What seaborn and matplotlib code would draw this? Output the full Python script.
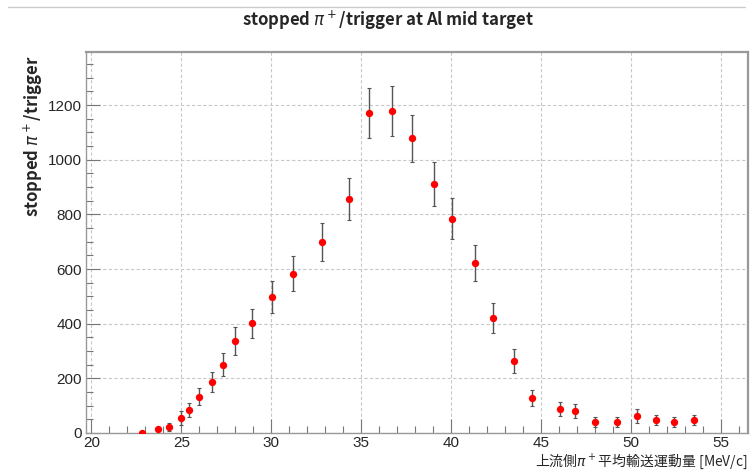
import numpy as np
import pandas as pd
import matplotlib
matplotlib.use("Agg")
import matplotlib.pyplot as plt
import seaborn as sns
from matplotlib.ticker import MultipleLocator

# 上流側 π+ 平均輸送運動量 [MeV/c]
momentum = [22.8, 23.7, 24.3, 25.0, 25.4, 26.0, 26.7, 27.3, 28.0, 28.9,
            30.05, 31.2, 32.8, 34.3, 35.45, 36.7, 37.8, 39.05, 40.05, 41.3,
            42.35, 43.5, 44.5, 46.05, 46.9, 48.0, 49.2, 50.35, 51.4, 52.4, 53.5]
# stopped pi+ / trigger
stopped = [0, 15, 22, 55, 84, 132, 187, 249, 337, 402,
           498, 582, 699, 856, 1171, 1178, 1079, 911, 783, 622,
           421, 263, 128, 88, 80, 40, 40, 62, 48, 40, 48]
stopped_err = [0, 8, 13, 24, 25, 31, 38, 42, 50, 53,
               59, 64, 70, 78, 91, 91, 86, 82, 75, 66,
               55, 44, 31, 25, 25, 18, 18, 24, 18, 18, 18]

df = pd.DataFrame({'p': momentum, 'n': stopped, 'err': stopped_err})

sns.set_style("white")
plt.rcParams['font.family'] = ['Liberation Sans', 'DejaVu Sans']
plt.rcParams['mathtext.fontset'] = 'dejavusans'
jp = ['Noto Sans CJK JP', 'DejaVu Sans']

fig = plt.figure(figsize=(7.53, 4.70), dpi=100)
ax = fig.add_axes([86/753, 37/470, 662/753, 381/470])

ax.errorbar(df['p'], df['n'], yerr=df['err'], fmt='none', ecolor='#555555',
            elinewidth=1.0, capsize=1.5, capthick=0.8, zorder=2)
sns.scatterplot(data=df, x='p', y='n', ax=ax, color='red', s=28,
                edgecolor='red', linewidth=0, zorder=3)

ax.set_xlim(19.7, 56.5)
ax.set_ylim(0, 1394)
ax.xaxis.set_major_locator(MultipleLocator(5))
ax.xaxis.set_minor_locator(MultipleLocator(1))
ax.yaxis.set_major_locator(MultipleLocator(200))
ax.yaxis.set_minor_locator(MultipleLocator(50))

ax.grid(True, which='major', linestyle=(0, (3, 2)), color='#c8c8c8', linewidth=0.8)
ax.set_axisbelow(True)
ax.tick_params(which='both', direction='in', color='#777777', labelsize=11,
               top=False, right=False, bottom=True, left=True)
ax.tick_params(which='major', length=10, width=0.8)
ax.tick_params(which='minor', length=5, width=0.8)
ax.tick_params(axis='x', pad=2)
ax.tick_params(axis='y', pad=3)
for s in ax.spines.values():
    s.set_color('#999999')
    s.set_linewidth(1.0)
ax.spines['top'].set_linewidth(1.6)
ax.spines['right'].set_linewidth(1.6)

ax.set_xlabel('')
ax.set_ylabel('')

fig.text(388/753, 1 - 20/470, r'stopped $\pi^+$/trigger at Al mid target',
         ha='center', va='center', fontsize=12, fontweight='bold', family=jp)
fig.text(33/753, 1 - 55/470, r'stopped $\pi^+$/trigger', rotation=90,
         ha='center', va='top', fontsize=12, fontweight='bold', family=jp)
fig.text(748/753, 1 - 461/470, r'上流側$\pi^+$平均輸送運動量 [MeV/c]',
         ha='right', va='center', fontsize=10, family=jp)

# top rule line of the canvas
fig.add_artist(plt.Line2D([8/753, 745/753], [1 - 7/470, 1 - 7/470],
                          color='#cccccc', linewidth=1.0))

fig.savefig('out.png', dpi=100)
